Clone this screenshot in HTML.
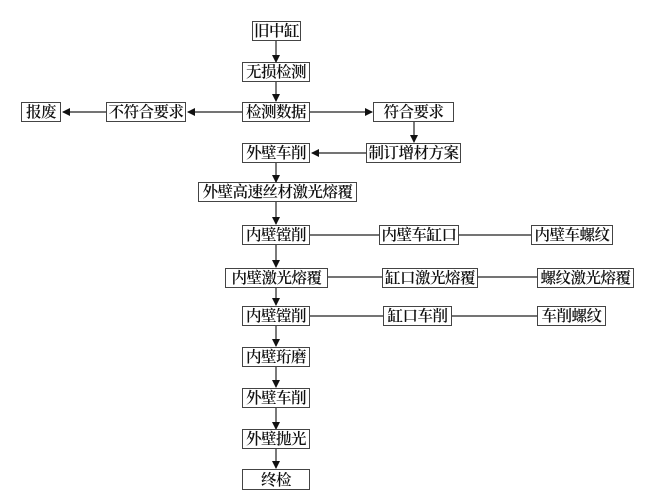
<!DOCTYPE html>
<html><head><meta charset="utf-8"><style>
body{margin:0;background:#fff;width:650px;height:500px;position:relative;overflow:hidden}
.b{position:absolute;border:1.5px solid #444;box-sizing:border-box;font-family:"Noto Serif CJK SC","Liberation Serif",serif;font-weight:600;font-size:15.5px;color:#111;display:flex;align-items:center;justify-content:center;white-space:nowrap;letter-spacing:-0.5px;background:#fff;line-height:1}
svg{position:absolute;left:0;top:0}
</style></head><body>
<svg width="650" height="500">
<defs><marker id="a" markerWidth="8" markerHeight="8" refX="7" refY="4" orient="auto" markerUnits="userSpaceOnUse"><path d="M0,0L8,4L0,8z" fill="#111"/></marker></defs>
<g stroke="#222" stroke-width="1.2" fill="none">
<line x1="276" y1="40" x2="276" y2="62" marker-end="url(#a)"/>
<line x1="276" y1="81" x2="276" y2="101" marker-end="url(#a)"/>
<line x1="242" y1="112" x2="188" y2="112" marker-end="url(#a)"/>
<line x1="106" y1="112" x2="63" y2="112" marker-end="url(#a)"/>
<line x1="310" y1="112" x2="372" y2="112" marker-end="url(#a)"/>
<line x1="414" y1="121" x2="414" y2="142" marker-end="url(#a)"/>
<line x1="366" y1="153" x2="312" y2="153" marker-end="url(#a)"/>
<line x1="276" y1="163" x2="276" y2="182" marker-end="url(#a)"/>
<line x1="276" y1="201" x2="276" y2="224" marker-end="url(#a)"/>
<line x1="276" y1="245" x2="276" y2="267" marker-end="url(#a)"/>
<line x1="276" y1="287" x2="276" y2="305" marker-end="url(#a)"/>
<line x1="276" y1="326" x2="276" y2="346" marker-end="url(#a)"/>
<line x1="276" y1="367" x2="276" y2="387" marker-end="url(#a)"/>
<line x1="276" y1="407" x2="276" y2="429" marker-end="url(#a)"/>
<line x1="276" y1="449" x2="276" y2="468" marker-end="url(#a)"/>
<line x1="310" y1="235" x2="531" y2="235"/>
<line x1="328" y1="277" x2="537" y2="277"/>
<line x1="310" y1="316" x2="537" y2="316"/>
</g></svg>
<div class="b" style="left:252px;top:21px;width:49px;height:20px">旧中缸</div>
<div class="b" style="left:242px;top:62px;width:68px;height:20px">无损检测</div>
<div class="b" style="left:242px;top:102px;width:68px;height:20px">检测数据</div>
<div class="b" style="left:21px;top:102px;width:40px;height:20px">报废</div>
<div class="b" style="left:106px;top:102px;width:80px;height:20px">不符合要求</div>
<div class="b" style="left:373px;top:102px;width:81px;height:20px">符合要求</div>
<div class="b" style="left:366px;top:143px;width:95px;height:20px">制订增材方案</div>
<div class="b" style="left:242px;top:143px;width:68px;height:20px">外壁车削</div>
<div class="b" style="left:198px;top:182px;width:159px;height:20px">外壁高速丝材激光熔覆</div>
<div class="b" style="left:242px;top:225px;width:68px;height:20px">内壁镗削</div>
<div class="b" style="left:379px;top:225px;width:80px;height:20px">内壁车缸口</div>
<div class="b" style="left:531px;top:225px;width:82px;height:20px">内壁车螺纹</div>
<div class="b" style="left:225px;top:268px;width:103px;height:20px">内壁激光熔覆</div>
<div class="b" style="left:382px;top:268px;width:96px;height:20px">缸口激光熔覆</div>
<div class="b" style="left:537px;top:268px;width:97px;height:20px">螺纹激光熔覆</div>
<div class="b" style="left:242px;top:306px;width:68px;height:20px">内壁镗削</div>
<div class="b" style="left:383px;top:306px;width:69px;height:20px">缸口车削</div>
<div class="b" style="left:537px;top:306px;width:69px;height:20px">车削螺纹</div>
<div class="b" style="left:242px;top:347px;width:68px;height:20px">内壁珩磨</div>
<div class="b" style="left:242px;top:388px;width:68px;height:20px">外壁车削</div>
<div class="b" style="left:242px;top:429px;width:68px;height:20px">外壁抛光</div>
<div class="b" style="left:242px;top:469px;width:68px;height:21px">终检</div>
</body></html>
